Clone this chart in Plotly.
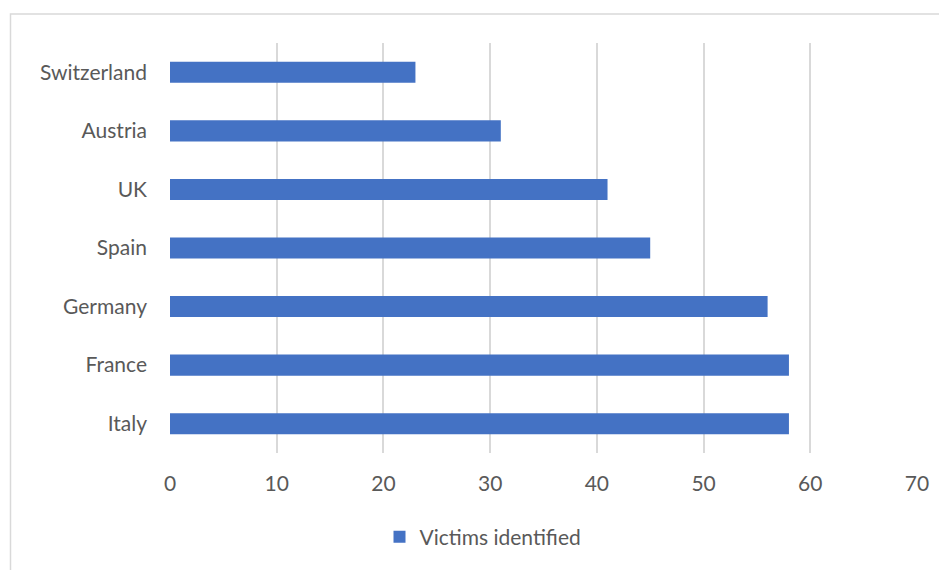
import plotly.graph_objects as go

countries = ["Italy", "France", "Germany", "Spain", "UK", "Austria", "Switzerland"]
victims = [58, 58, 56, 45, 41, 31, 23]
x_ticks = [0, 10, 20, 30, 40, 50, 60, 70]
series_name = "Victims identified"

# page has an 8px body margin; compensate
W, H = 939, 562
L, R, T, B = 162, 30, 35, 117
PW, PH = W - L - R, H - T - B

fig = go.Figure()
fig.add_trace(go.Bar(
    y=countries, x=victims, orientation="h", name=series_name,
    marker=dict(color="#4472C4", line=dict(width=0)), width=0.36,
))

fam = "Lato, Open Sans, sans-serif"
font = dict(family=fam, size=21, color="#595959")
fig.update_layout(
    width=W, height=H,
    margin=dict(l=L, r=R, t=T, b=B, pad=0),
    paper_bgcolor="white", plot_bgcolor="white",
    font=font,
    showlegend=True,
    legend=dict(orientation="h", x=(475 - L) / PW, xanchor="center",
                y=-(529 - 445) / PH, yanchor="middle",
                font=dict(family=fam, size=21, color="#595959")),
)
fig.update_xaxes(range=[0, 70], tickvals=x_ticks, showgrid=True, gridcolor="#D9D9D9",
                 gridwidth=1.5, zeroline=False, showline=False, ticks="",
                 ticklabelstandoff=16)
fig.update_yaxes(categoryorder="array", categoryarray=countries, showgrid=False,
                 zeroline=False, showline=False, ticks="", ticklabelstandoff=22)
fig.add_shape(type="rect", xref="paper", yref="paper",
              x0=-(L - 2.5) / PW, x1=(W - L + 5) / PW,
              y0=-(B + 5) / PH, y1=1 + (T - 6) / PH,
              line=dict(color="#D9D9D9", width=1.5), fillcolor="rgba(0,0,0,0)", layer="below")
fig.write_html("out.html")
